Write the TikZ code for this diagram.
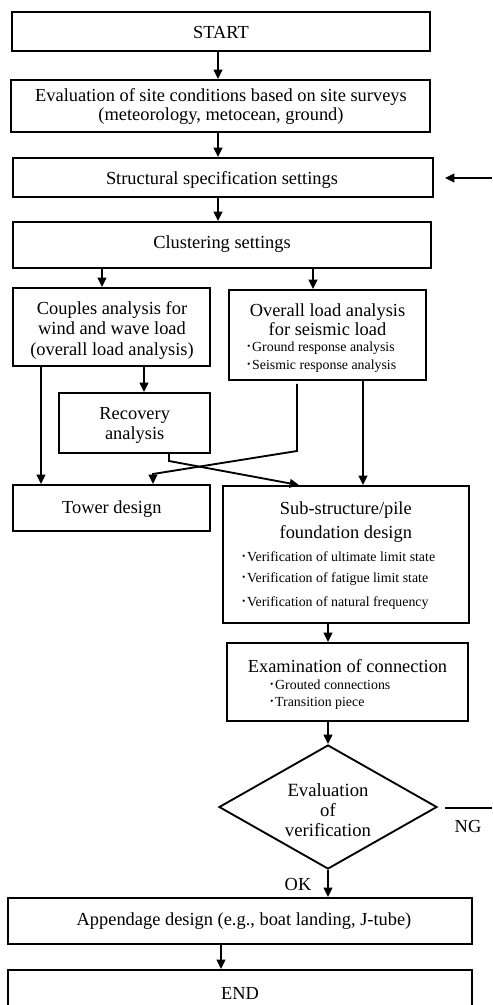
\documentclass[tikz,border=0pt]{standalone}
\usepackage{fontspec}
\setmainfont{Liberation Serif}
\newfontfamily\cjk{Noto Sans CJK JP}
\usetikzlibrary{arrows.meta,shapes.geometric}
\newcommand\mybox[5]{\node[box, minimum width={(#4-#2)*0.75pt}, minimum height={(#5-#3)*0.75pt}] (#1) at ({(#2+#4)/2},{(#3+#5)/2}) {};}
\newcommand\bul{{\cjk ･}}
\begin{document}
\begin{tikzpicture}[x=0.75pt,y=-0.75pt,
  box/.style={draw, line width=1.4pt, inner sep=0pt, rectangle},
  lbl/.style={inner sep=0pt, font=\fontsize{13.8}{15.4}\selectfont, align=center, yshift=-1.5pt},
  sml/.style={inner sep=0pt, font=\fontsize{10.4}{12}\selectfont, anchor=west, yshift=-1pt},
  arr/.style={line width=1.4pt, -{Triangle[length=7pt,width=6.5pt]}},
  ln/.style={line width=1.4pt}]
\useasboundingbox (0,0) rectangle (492,1005);
\clip (0,0) rectangle (492,1005);

% boxes
\mybox{start}{12}{12}{430}{51}
\mybox{eval}{11}{80}{430}{132}
\mybox{struct}{13}{158}{433}{197}
\mybox{cluster}{13}{222}{431}{268}
\mybox{couples}{13}{288}{210}{366}
\mybox{overall}{229}{290}{426}{380}
\mybox{recovery}{59}{393}{210}{453}
\mybox{tower}{13}{485}{210}{531}
\mybox{sub}{223}{486}{469}{623}
\mybox{exam}{227}{643}{468}{721}
\node[diamond, draw, line width=1.4pt, inner sep=0pt, minimum width=163.5pt, minimum height=93pt] (dec) at (328,807) {};
\mybox{app}{8}{898}{472}{944}
\mybox{endb}{8}{970}{472}{1030}

% texts
\node[lbl] (tstart) at (221,31) {START};
\node[lbl, font=\fontsize{13.8}{13.8}\selectfont] (teval) at (221,104.5) {Evaluation of site conditions based on site surveys\\(meteorology, metocean, ground)};
\node[lbl] (tstruct) at (222,178) {Structural specification settings};
\node[lbl] (tcluster) at (222,242) {Clustering settings};
\node[lbl] (tcouples) at (112,328.5) {Couples analysis for\\wind and wave load\\(overall load analysis)};
\node[lbl, font=\fontsize{13.8}{14.3}\selectfont] (toverall) at (327.5,317.5) {Overall load analysis\\for seismic load};
\node[sml] (tov1) at (245,347) {\bul Ground response analysis};
\node[sml] (tov2) at (245,365) {\bul Seismic response analysis};
\node[lbl, font=\fontsize{13.8}{15}\selectfont] (trecovery) at (134.7,423) {Recovery\\analysis};
\node[lbl] (ttower) at (111.8,506.7) {Tower design};
\node[lbl, font=\fontsize{13.8}{17.8}\selectfont] (tsub) at (345.8,520) {Sub-structure/pile\\foundation design};
\node[sml] (tsub1) at (240,555) {\bul Verification of ultimate limit state};
\node[sml] (tsub2) at (240,578) {\bul Verification of fatigue limit state};
\node[sml] (tsub3) at (240,601.7) {\bul Verification of natural frequency};
\node[lbl] (texam) at (347.5,664) {Examination of connection};
\node[sml] (tex1) at (268,683.3) {\bul Grouted connections};
\node[sml] (tex2) at (268,701.7) {\bul Transition piece};
\node[lbl, font=\fontsize{14}{15}\selectfont] (tdec) at (328,808) {Evaluation\\of\\verification};
\node[lbl] (tng) at (468,824) {NG};
\node[lbl] (tok) at (298,882) {OK};
\node[lbl] (tapp) at (244,919) {Appendage design (e.g., boat landing, J-tube)};
\node[lbl] (tend) at (240,991.7) {END};

% connectors
\draw[arr] (start.south -| 218,0) -- (eval.north -| 218,0);
\draw[arr] (eval.south -| 218,0) -- (struct.north -| 218,0);
\draw[arr] (struct.south -| 218,0) -- (cluster.north -| 218,0);
\coordinate (fbin) at (492,178);
\coordinate (fbend) at (445,178);
\draw[arr] (fbin) -- (fbend);
\draw[arr] (cluster.south -| 102,0) -- (couples.north -| 102,0);
\draw[arr] (cluster.south -| 313,0) -- (overall.north -| 313,0);
\draw[arr] (couples.south -| 41,0) -- (tower.north -| 41,0);
\draw[arr] (couples.south -| 144,0) -- (recovery.north -| 144,0);
\draw[arr] (overall.south -| 363,0) -- (sub.north -| 363,0);
\coordinate (ot1) at (297,451);
\coordinate (ot2) at (153,474);
\draw[arr] ([yshift=-2.2pt]overall.south -| 297,0) -- (ot1) -- (ot2) -- (tower.north -| ot2);
\coordinate (rs1) at (169,461);
\draw[arr] (recovery.south -| rs1) -- (rs1) -- (sub.north -| 299,0);
\draw[arr] (sub.south -| 328,0) -- (exam.north -| 328,0);
\draw[arr] (exam.south -| dec.north) -- (dec.north);
\coordinate (ng1) at (445,808);
\coordinate (ng2) at (492,808);
\draw[ln] (ng1) -- (ng2);
\draw[arr] (dec.south) -- (app.north -| dec.south);
\draw[arr] (app.south -| 221,0) -- (endb.north -| 221,0);
\end{tikzpicture}
\end{document}
